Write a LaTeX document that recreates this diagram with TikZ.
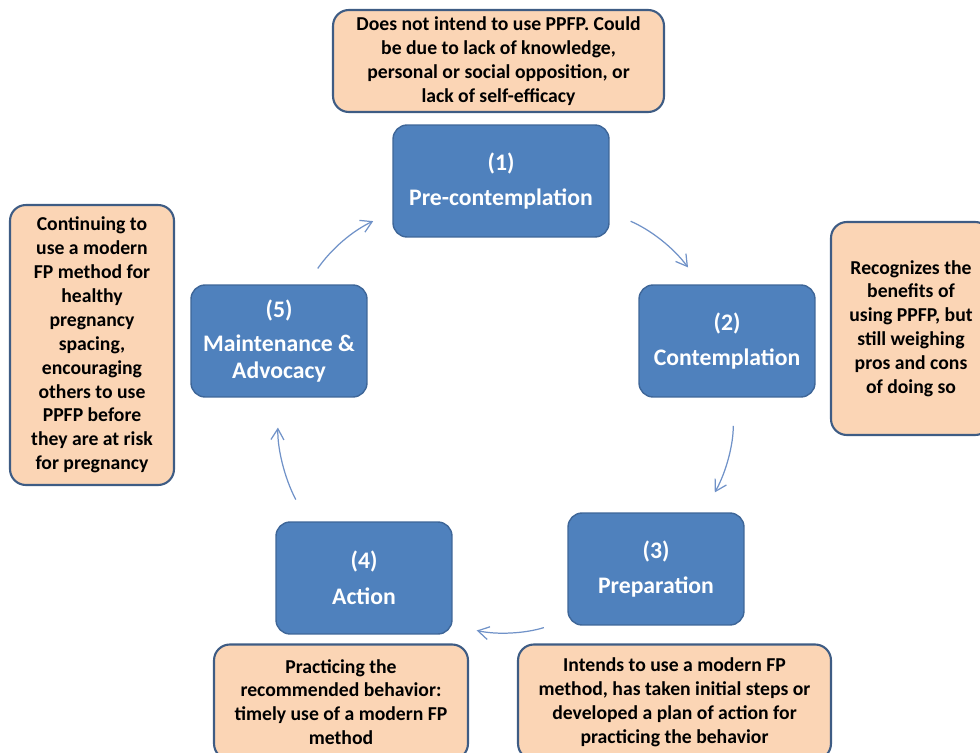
\documentclass[tikz,border=0pt]{standalone}
\usepackage{fontspec}
\setmainfont{Carlito}
\usetikzlibrary{arrows.meta, positioning}
\definecolor{stageblue}{RGB}{79, 129, 189}
\definecolor{stageedge}{RGB}{62, 102, 152}
\definecolor{notepeach}{RGB}{251, 213, 181}
\definecolor{noteedge}{RGB}{62, 92, 132}
\definecolor{cyclearrow}{RGB}{112, 146, 200}
\tikzset{
  stage/.style={rectangle, rounded corners=8pt, draw=stageedge, line width=0.8pt, fill=stageblue, text=white, align=center, font=\fontsize{13.5}{15.3}\selectfont\bfseries, minimum width=3.52cm, minimum height=2.24cm, inner sep=0pt},
  note/.style={rectangle, rounded corners=9pt, draw=noteedge, line width=1.2pt, fill=notepeach, text=black, align=center, font=\fontsize{11.2}{13.6}\selectfont\bfseries, inner sep=0pt},
  cyclearr/.style={-{Straight Barb[length=2.2mm, width=2.6mm]}, cyclearrow, line width=0.7pt, bend left=15}
}

\begin{document}
\begin{tikzpicture}[x=0.02cm, y=-0.02cm]
    \useasboundingbox (0,0) rectangle (980,753);
    \clip (0,0) rectangle (980,753);

    % Five stages of the cycle
    \node[stage, minimum width=4.32cm] (s1) at (501, 181) {(1)\\[5pt] Pre-contemplation};
    \node[stage] (s2) at (727, 341) {(2)\\[5pt] Contemplation};
    \node[stage] (s3) at (656, 569) {(3)\\[5pt] Preparation};
    \node[stage] (s4) at (364, 578) {(4)\\[5pt] Action};
    \node[stage] (s5) at (279, 341) {(5)\\[4pt] Maintenance \&\\ Advocacy};

    % Descriptions
    \node[note, minimum width=6.62cm, minimum height=2.04cm] (n1) at (498.5, 61) {Does not intend to use PPFP. Could\\ be due to lack of knowledge,\\ personal or social opposition, or\\ lack of self-efficacy};
    \node[note, minimum width=3.2cm, minimum height=4.26cm] (n2) at (911, 328.5) {Recognizes the\\ benefits of\\ using PPFP, but\\ still weighing\\ pros and cons\\ of doing so};
    \node[note, minimum width=6.26cm, minimum height=2.3cm] (n3) at (674.5, 702) {Intends to use a modern FP\\ method, has taken initial steps or\\ developed a plan of action for\\ practicing the behavior};
    \node[note, minimum width=5.08cm, minimum height=2.3cm] (n4) at (341, 702) {Practicing the\\ recommended behavior:\\ timely use of a modern FP\\ method};
    \node[note, minimum width=3.28cm, minimum height=5.6cm] (n5) at (92, 345) {Continuing to\\ use a modern\\ FP method for\\ healthy\\ pregnancy\\ spacing,\\ encouraging\\ others to use\\ PPFP before\\ they are at risk\\ for pregnancy};

    % Arrows around the cycle
    \draw[cyclearr, shorten <=13pt, shorten >=12pt] (s1.-16) to (s2.115);
    \draw[cyclearr, shorten <=16pt, shorten >=13pt] (s2.-84) to (s3.50);
    \draw[cyclearr, shorten <=14pt, shorten >=14pt] (s3.210) to (s4.-28);
    \draw[cyclearr, shorten <=14pt, shorten >=17pt] (s4.135) to (s5.270);
    \draw[cyclearr, shorten <=11pt, shorten >=12pt] (s5.64) to (s1.196);
\end{tikzpicture}
\end{document}
